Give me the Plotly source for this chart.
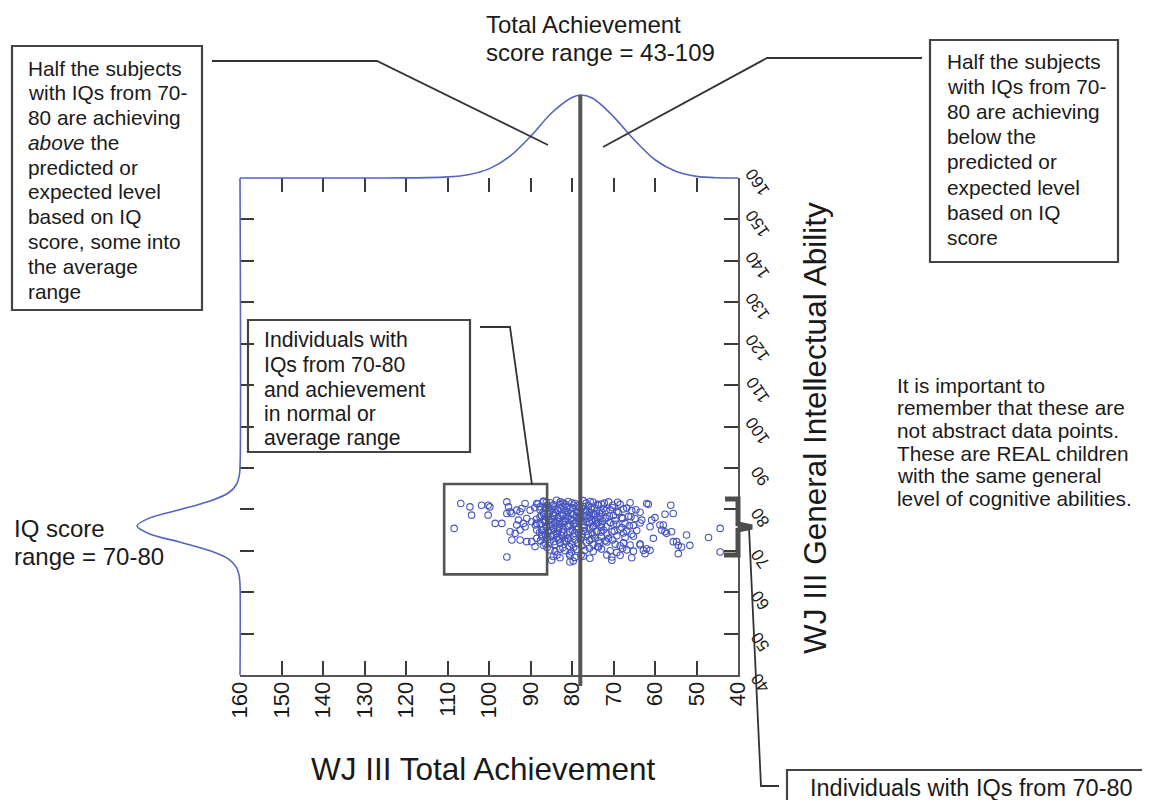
import plotly.graph_objects as go

# the page puts the figure 8px from the window's top-left corner
OFF = 8
W, H = 1150 - 2 * OFF, 808 - 2 * OFF
FONT = "Liberation Sans, Arial, sans-serif"

# ---------------- data ----------------
ach_ticks = list(range(40, 161, 10))
iq_ticks = list(range(40, 161, 10))
mean_achievement = 78

# distribution of total achievement (drawn above the plot), relative height
top_curve_ach = [160, 125, 120, 115, 110, 105, 100, 95, 90, 85, 80, 78, 75, 70, 65, 60, 55, 50, 45, 40]
top_curve_density = [0, 0, 0.001, 0.004, 0.013, 0.04, 0.11, 0.26, 0.5, 0.78, 0.97, 1.0, 0.96, 0.74, 0.46, 0.22, 0.08, 0.02, 0.003, 0]

# distribution of IQ (drawn left of the plot), relative height
left_curve_iq = [40, 62, 64, 66, 68, 70, 72, 74, 76, 78, 80, 82, 84, 86, 88, 90, 160]
left_curve_density = [0, 0, 0.008, 0.035, 0.11, 0.29, 0.57, 0.87, 1.0, 0.87, 0.57, 0.29, 0.11, 0.035, 0.008, 0, 0]

# individual children: WJ III Total Achievement
achievement = [
    # high achievers (left part)
    106.8, 104.6, 104.2, 101.8, 100.2, 99.8, 100.2, 108.4, 98.5, 96.9, 95.7, 95.3, 94.9, 95.7, 94.5, 93.3,
    92.5, 92.1, 91.3, 90.1, 88.5, 87.7, 86.9, 86.1, 92.9, 91.7, 90.9, 89.7, 88.5, 87.7, 86.5, 94.9,
    93.7, 94.5, 92.5, 90.9, 89.7, 88.5, 87.3, 95.7, 88.9, 86.9, 91.3, 92.5, 93.3, 88.5, 87.3, 86.1,
    # core
    86.9, 85.3, 83.7, 82.1, 80.9, 79.3, 77.3, 74.9, 72.9, 71.2, 68.4, 66.0, 62.0,
    87.7, 86.5, 85.3, 84.1, 82.9, 81.7, 80.5, 78.9, 77.7, 76.5, 75.3, 74.1, 72.4, 70.8, 69.2, 67.6, 65.6, 63.6,
    87.3, 86.1, 84.5, 83.3, 82.1, 80.9, 79.7, 78.1, 76.9, 75.7, 74.5, 73.3, 71.6, 70.0, 68.0, 66.4, 64.8,
    87.7, 86.5, 85.3, 84.1, 82.9, 81.7, 80.5, 79.3, 77.3, 75.7, 74.1, 72.9, 70.8, 69.2, 67.2, 65.2, 63.6,
    86.9, 85.7, 84.5, 83.3, 82.1, 80.5, 78.9, 77.3, 75.7, 74.1, 72.4, 70.4, 68.4, 66.8, 64.4,
    87.3, 86.1, 84.9, 83.7, 82.5, 80.9, 79.7, 77.7, 76.1, 74.5, 72.9, 71.2, 69.2, 67.2, 65.2,
    86.5, 85.3, 84.1, 82.9, 81.3, 80.1, 78.5, 76.5, 74.9, 73.3, 71.6, 69.6, 67.6, 66.0, 63.6,
    85.3, 84.1, 82.9, 81.7, 80.1, 78.9, 76.9, 74.9, 72.9, 70.8, 69.2, 66.8, 65.2,
    84.5, 82.9, 80.5, 79.3, 77.3, 75.7, 70.4, 68.4, 65.6,
    80.5, 79.7, 84.9, 70.4,
    # extra density in the core
    86.0, 84.8, 83.0, 81.2, 79.6, 78.2, 76.0, 73.6,
    85.8, 84.0, 82.4, 80.2, 78.6, 76.8, 74.8, 72.8,
    86.8, 85.0, 83.6, 81.6, 79.8, 78.0, 76.2, 74.4, 72.0,
    85.2, 83.0, 81.2, 79.0, 77.0, 74.8, 73.0,
    84.4, 82.0, 79.4, 77.6, 75.2,
    83.2, 81.0, 78.0, 75.8, 73.6,
    88.2, 86.2, 84.4, 82.8, 81.6, 80.0, 78.6, 76.6, 75.6, 73.8, 72.2, 70.2, 69.0,
    89.0, 87.0, 85.6, 84.6, 83.4, 82.2, 81.0, 79.8, 78.0, 77.2, 75.8, 74.6, 73.4, 71.8, 70.2, 68.8, 66.8, 64.6,
    88.6, 86.8, 85.6, 84.2, 83.0, 81.4, 80.2, 79.0, 77.6, 76.4, 75.2, 74.0, 72.6, 71.0, 69.6, 67.8, 65.8,
    88.8, 86.2, 84.8, 83.4, 82.2, 80.8, 79.6, 78.4, 76.6, 75.0, 73.6, 71.8, 70.0, 68.0, 66.2,
    87.8, 86.4, 85.0, 83.8, 82.4, 81.2, 79.8, 78.4, 76.8, 75.0, 73.0, 71.6, 69.8, 67.6, 65.6,
    87.6, 85.8, 84.4, 83.0, 81.8, 80.6, 79.2, 77.6, 75.4, 73.8, 72.0, 70.2, 68.4,
    86.0, 83.6, 82.2, 80.6, 79.6, 77.8, 75.8, 73.6, 71.6, 67.8,
    # low achievers (right part)
    61.6, 56.2, 55.6, 57.6, 60.0, 60.8, 61.2, 63.2, 58.8, 58.0, 58.4, 57.6, 57.2, 56.0, 52.4,
    60.4, 63.6, 62.8, 62.0, 61.2, 62.4, 55.6, 54.8, 54.4, 53.6, 51.6, 54.4, 47.1, 44.3, 44.3,
]

# individual children: WJ III General Intellectual Ability
iq = [
    81.4, 80.6, 78.6, 81.0, 81.0, 80.6, 78.6, 75.4, 76.6, 76.6, 81.8, 80.6, 79.4, 79.0, 79.0, 79.8,
    79.4, 80.2, 81.4, 79.8, 81.4, 80.6, 81.8, 80.2, 77.4, 76.6, 77.8, 77.0, 76.6, 78.2, 77.4, 74.6,
    74.2, 72.6, 72.6, 72.2, 72.2, 73.0, 73.8, 68.5, 71.0, 71.3, 75.8, 75.0, 76.2, 75.0, 75.0, 75.8,
    82.0, 81.6, 82.2, 81.5, 81.9, 81.4, 82.1, 81.7, 81.3, 81.8, 81.2, 81.6, 81.4,
    79.9, 80.2, 79.6, 80.0, 80.3, 79.7, 80.1, 79.5, 80.2, 79.8, 80.0, 79.6, 80.2, 79.9, 79.5, 80.1, 79.7, 79.3,
    78.4, 78.1, 78.6, 78.0, 78.5, 78.2, 78.7, 78.0, 78.4, 78.1, 78.6, 78.3, 77.9, 78.5, 78.0, 78.3, 77.8,
    76.6, 76.9, 76.3, 76.8, 76.5, 77.0, 76.4, 76.7, 76.2, 76.9, 76.5, 76.3, 76.8, 76.4, 76.6, 76.1, 76.7,
    75.0, 74.7, 75.3, 74.9, 75.2, 74.6, 75.1, 74.8, 75.3, 74.7, 75.0, 74.6, 75.2, 74.8, 74.9,
    73.4, 73.1, 73.6, 73.2, 73.7, 73.0, 73.5, 73.3, 73.8, 73.1, 73.4, 73.0, 73.6, 73.2, 73.5,
    71.8, 72.1, 71.5, 71.9, 72.2, 71.6, 71.9, 72.0, 71.5, 71.8, 72.1, 71.6, 71.9, 71.4, 71.7,
    70.2, 69.8, 70.4, 70.0, 69.7, 70.3, 70.1, 69.8, 70.4, 70.0, 69.6, 70.2, 69.9,
    68.6, 68.3, 68.8, 68.4, 68.7, 68.2, 68.5, 68.9, 68.3,
    67.3, 67.5, 67.7, 67.7,
    81.0, 80.8, 81.2, 80.6, 81.0, 80.4, 80.9, 81.0,
    79.0, 79.2, 78.8, 79.0, 79.2, 79.4, 78.9, 79.3,
    77.4, 77.6, 77.2, 77.8, 77.4, 77.6, 77.8, 77.4, 77.9,
    75.8, 75.9, 76.0, 75.8, 75.6, 76.0, 75.7,
    74.0, 74.3, 74.2, 74.0, 74.3,
    72.6, 72.8, 72.7, 72.5, 72.4,
    81.3, 81.7, 81.1, 81.8, 81.2, 81.6, 81.0, 81.5, 81.9, 81.2, 81.5, 81.0, 81.7,
    80.4, 79.3, 80.5, 79.1, 79.8, 80.6, 79.4, 80.4, 79.6, 80.7, 79.2, 80.4, 79.0, 79.7, 80.4, 79.2, 80.3, 79.9,
    77.6, 78.8, 77.3, 78.4, 77.0, 78.7, 77.6, 78.3, 77.1, 78.6, 77.4, 78.0, 77.2, 78.4, 77.3, 77.8, 78.2,
    76.2, 75.6, 76.9, 75.4, 76.8, 75.9, 76.6, 75.5, 76.9, 75.7, 76.8, 75.8, 76.4, 75.6, 76.0,
    74.4, 73.9, 74.8, 74.2, 74.6, 74.0, 74.8, 74.3, 74.6, 73.8, 74.5, 74.1, 74.7, 74.3, 74.0,
    72.4, 72.7, 72.2, 72.9, 72.4, 71.0, 72.6, 71.2, 72.8, 71.0, 72.4, 72.6, 71.2,
    70.8, 69.0, 70.7, 69.2, 70.8, 69.0, 70.6, 70.9, 69.0, 70.6,
    81.2, 81.0, 79.0, 78.8, 78.0, 77.4, 75.8, 77.4, 76.2, 76.2, 75.0, 74.6, 74.2, 74.6, 73.8,
    73.0, 71.4, 70.1, 70.5, 70.1, 69.3, 72.2, 72.2, 71.3, 70.9, 71.3, 69.3, 73.2, 75.4, 69.7,
]
n = min(len(achievement), len(iq))
achievement, iq = achievement[:n], iq[:n]

# ---------------- helpers (window pixels -> paper) ----------------
def px(x):
    return (x - OFF) / W


def py(y):
    return 1 - (y - OFF) / H


BLUE = "#5563c1"
DARK = "#555555"
TXT = "#1a1a1a"

# main plot frame in window pixels
L, R, T, B = 240, 738, 178, 675

fig = go.Figure()

fig.add_trace(go.Scatter(
    x=achievement, y=iq, mode="markers", xaxis="x", yaxis="y",
    marker=dict(symbol="circle-open", size=6.5, color="#4655c0", line=dict(width=1.1)),
    hoverinfo="skip", showlegend=False,
))
fig.add_trace(go.Scatter(
    x=top_curve_ach, y=top_curve_density, mode="lines", xaxis="x", yaxis="y2",
    line=dict(color=BLUE, width=1.6, shape="spline", smoothing=0.8),
    hoverinfo="skip", showlegend=False,
))
fig.add_trace(go.Scatter(
    x=left_curve_density, y=left_curve_iq, mode="lines", xaxis="x3", yaxis="y",
    line=dict(color=BLUE, width=1.6, shape="spline", smoothing=0.8),
    hoverinfo="skip", showlegend=False,
))
# empty traces so the mirrored tick axes get created
fig.add_trace(go.Scatter(x=[], y=[], xaxis="x2", yaxis="y", showlegend=False, hoverinfo="skip"))
fig.add_trace(go.Scatter(x=[], y=[], xaxis="x", yaxis="y3", showlegend=False, hoverinfo="skip"))

# curve axes geometry
top_peak = 95
unit_top = T - top_peak
y2_dom = [py(T + 0.05 * unit_top), py(top_peak - 0.03 * unit_top)]
left_peak = 137
unit_left = L - left_peak
x3_dom = [px(left_peak - 0.03 * unit_left), px(L + 0.05 * unit_left)]

tick_common = dict(ticks="inside", ticklen=14, tickwidth=2, tickcolor="#3a3a3a",
                   showgrid=False, zeroline=False, automargin=False)

fig.update_layout(
    width=W, height=H, autosize=False,
    margin=dict(l=0, r=0, t=0, b=0, pad=0, autoexpand=False),
    paper_bgcolor="white", plot_bgcolor="rgba(0,0,0,0)",
    font=dict(family=FONT, color=TXT),
    xaxis=dict(domain=[px(L), px(R)], range=[160, 40], anchor="y", side="bottom",
               tickvals=ach_ticks, tickangle=-90, tickfont=dict(size=22, color=TXT),
               ticklabelstandoff=-4,
               showline=True, linecolor=DARK, linewidth=2, **tick_common),
    yaxis=dict(domain=[py(B), py(T)], range=[40, 160], anchor="x", side="right",
               tickvals=iq_ticks, tickangle=-125, tickfont=dict(size=17, color=TXT),
               ticklabelstandoff=20, ticklabelshift=20,
               showline=True, linecolor=DARK, linewidth=2, **tick_common),
    xaxis2=dict(overlaying="x", range=[160, 40], anchor="y", side="top",
                tickvals=ach_ticks, showticklabels=False, showline=False, **tick_common),
    yaxis3=dict(overlaying="y", range=[40, 160], anchor="x", side="left",
                tickvals=iq_ticks, showticklabels=False, showline=False, **tick_common),
    yaxis2=dict(domain=y2_dom, range=[-0.05, 1.03], anchor="x", visible=False,
                showgrid=False, zeroline=False, automargin=False),
    xaxis3=dict(domain=x3_dom, range=[1.03, -0.05], anchor="y", visible=False,
                showgrid=False, zeroline=False, automargin=False),
    showlegend=False,
)

shapes = []


def seg(points, color="#333333", width=1.8):
    d = "M " + " L ".join(f"{px(a):.5f},{py(b):.5f}" for a, b in points)
    shapes.append(dict(type="path", path=d, xref="paper", yref="paper",
                       line=dict(color=color, width=width)))


def box(x0, y0, x1, y1, color="#444444", width=2.2):
    shapes.append(dict(type="rect", xref="paper", yref="paper",
                       x0=px(x0), x1=px(x1), y0=py(y1), y1=py(y0),
                       line=dict(color=color, width=width), fillcolor="rgba(0,0,0,0)"))


# text boxes
box(12, 46, 202, 310)
box(930, 40, 1118, 262)
box(248, 320, 470, 452)
box(787, 770, 1165, 830)

# box around the high-achieving subset (in data coordinates)
shapes.append(dict(type="rect", xref="x", yref="y", x0=110.8, x1=86.0, y0=64.3, y1=86.1,
                   line=dict(color=DARK, width=2.6), fillcolor="rgba(0,0,0,0)"))

# mean achievement line
shapes.append(dict(type="line", xref="x", yref="paper", x0=mean_achievement, x1=mean_achievement,
                   y0=py(686), y1=py(top_peak), line=dict(color=DARK, width=4)))

# leader lines
seg([(212, 61), (377, 61), (548, 145)])
seg([(922, 58), (767, 58), (603, 147)])
seg([(480, 327), (510, 327), (532, 485)])
seg([(749, 528), (761, 786), (779, 786)])

# curly bracket for the IQ range
seg([(725, 499), (738, 499), (738, 524), (752, 527), (738, 530), (738, 555), (724, 555)],
    color="#4d4d4d", width=5)

fig.update_layout(shapes=shapes)

ann = []


def text_block(lines, x, y0, step, size=20.8, xanchor="left"):
    for i, s in enumerate(lines):
        ann.append(dict(text=s, x=px(x), y=py(y0 + i * step), xref="paper", yref="paper",
                        xanchor=xanchor, yanchor="middle", showarrow=False,
                        font=dict(size=size, color=TXT, family=FONT)))


text_block(["Half the subjects", "with IQs from 70-", "80 are achieving", "<i>above</i> the",
            "predicted or", "expected level", "based on IQ", "score, some into",
            "the average", "range"], 26, 68, 24.8)
text_block(["Half the subjects", "with IQs from 70-", "80 are achieving", "below the",
            "predicted or", "expected level", "based on IQ", "score"], 945, 62, 25)
text_block(["Individuals with", "IQs from 70-80", "and achievement", "in normal or",
            "average range"], 262, 340, 24.6, size=21.2)
text_block(["It is important to", "remember that these are", "not abstract data points.",
            "These are REAL children", "with the same general",
            "level of cognitive abilities."], 895, 385, 22.7, size=20.8)
text_block(["Total Achievement", "score range = 43-109"], 484, 25, 28, size=24)
text_block(["IQ score", "range = 70-80"], 12, 528, 28, size=24)
text_block(["Individuals with IQs from 70-80"], 808, 788, 0, size=23.5)

ann.append(dict(text="WJ III Total Achievement", x=px(483), y=py(769), xref="paper", yref="paper",
                xanchor="center", yanchor="middle", showarrow=False,
                font=dict(size=31.5, color=TXT, family=FONT)))
ann.append(dict(text="WJ III General Intellectual Ability", x=px(815), y=py(428), xref="paper",
                yref="paper", xanchor="center", yanchor="middle", showarrow=False, textangle=-90,
                font=dict(size=31.5, color=TXT, family=FONT)))

fig.update_layout(annotations=ann)

fig.write_html("out.html")
